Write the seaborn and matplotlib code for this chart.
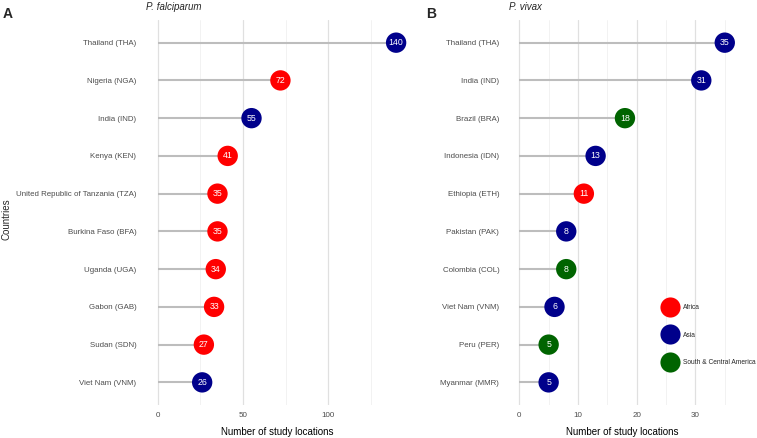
import matplotlib
matplotlib.use("Agg")
import matplotlib.pyplot as plt
from matplotlib.lines import Line2D
import seaborn as sns
import pandas as pd

sns.set_theme(style="white")
plt.rcParams["font.family"] = ["Liberation Sans", "DejaVu Sans"]

# P. falciparum
pf_countries = ["Thailand (THA)", "Nigeria (NGA)", "India (IND)", "Kenya (KEN)",
                "United Republic of Tanzania (TZA)", "Burkina Faso (BFA)", "Uganda (UGA)",
                "Gabon (GAB)", "Sudan (SDN)", "Viet Nam (VNM)"]
pf_counts = [140, 72, 55, 41, 35, 35, 34, 33, 27, 26]
pf_regions = ["Asia", "Africa", "Asia", "Africa", "Africa", "Africa", "Africa",
              "Africa", "Africa", "Asia"]

# P. vivax
pv_countries = ["Thailand (THA)", "India (IND)", "Brazil (BRA)", "Indonesia (IDN)",
                "Ethiopia (ETH)", "Pakistan (PAK)", "Colombia (COL)", "Viet Nam (VNM)",
                "Peru (PER)", "Myanmar (MMR)"]
pv_counts = [35, 31, 18, 13, 11, 8, 8, 6, 5, 5]
pv_regions = ["Asia", "Asia", "South & Central America", "Asia", "Africa", "Asia",
              "South & Central America", "Asia", "South & Central America", "Asia"]

region_order = ["Africa", "Asia", "South & Central America"]
palette = {"Africa": "#FF0000", "Asia": "#00008B", "South & Central America": "#006400"}

fig = plt.figure(figsize=(7.57, 4.38), dpi=100)
axA = fig.add_axes([0.1929, 0.0753, 0.3461, 0.879])
axB = fig.add_axes([0.6724, 0.0753, 0.2986, 0.879])


def lollipop(ax, countries, counts, regions, xmax, major, minor):
    df = pd.DataFrame({"country": countries, "n": counts, "region": regions})
    df["pos"] = range(len(df))
    # vertical grid
    for v in minor:
        ax.axvline(v, color="#ededed", lw=0.5, zorder=0)
    for v in major:
        ax.axvline(v, color="#e0e0e0", lw=0.9, zorder=0)
    ax.hlines(df["pos"], 0, df["n"], color="#bdbdbd", lw=1.5, zorder=1)
    sns.scatterplot(data=df, x="n", y="pos", hue="region", palette=palette,
                    hue_order=region_order, s=215, edgecolor="none", legend=False,
                    ax=ax, zorder=3, clip_on=False)
    for _, r in df.iterrows():
        ax.text(r["n"], r["pos"], str(r["n"]), color="white", fontsize=6.3,
                ha="center", va="center", zorder=4)
    pad = xmax * 0.05
    ax.set_xlim(-pad, xmax + pad)
    ax.set_ylim(len(df) - 0.4, -0.6)
    ax.set_yticks(df["pos"])
    ax.set_yticklabels(df["country"])
    ax.set_xticks(major)
    ax.tick_params(axis="x", length=0, labelsize=5.8, labelcolor="#4d4d4d", pad=5)
    ax.tick_params(axis="y", length=0, labelsize=5.7, labelcolor="#4d4d4d", pad=7)
    ax.grid(False)
    for s in ax.spines.values():
        s.set_visible(False)
    ax.set_xlabel("Number of study locations", fontsize=7, color="black", labelpad=6)
    ax.set_ylabel("")


lollipop(axA, pf_countries, pf_counts, pf_regions, 140, [0, 50, 100], [25, 75, 125])
lollipop(axB, pv_countries, pv_counts, pv_regions, 35, [0, 10, 20, 30], [5, 15, 25, 35])

axA.set_title("P. falciparum", fontsize=7, style="italic", loc="left", pad=7)
axB.set_title("P. vivax", fontsize=7, style="italic", loc="left", pad=7)
fig.text(0.003, 0.985, "A", fontsize=10, fontweight="bold", va="top", ha="left")
fig.text(0.563, 0.985, "B", fontsize=10, fontweight="bold", va="top", ha="left")
fig.text(0.008, 0.5, "Countries", fontsize=7, rotation=90, va="center", ha="center")

handles = [Line2D([0], [0], marker="o", ls="none", markersize=14.5,
                  markerfacecolor=palette[r], markeredgecolor="none") for r in region_order]
fig.legend(handles, region_order, loc="center left", bbox_to_anchor=(0.871, 0.235),
           frameon=False, fontsize=4.8, labelspacing=3.1, handletextpad=1.2,
           handlelength=1.5)

fig.savefig("out.png", dpi=100)
